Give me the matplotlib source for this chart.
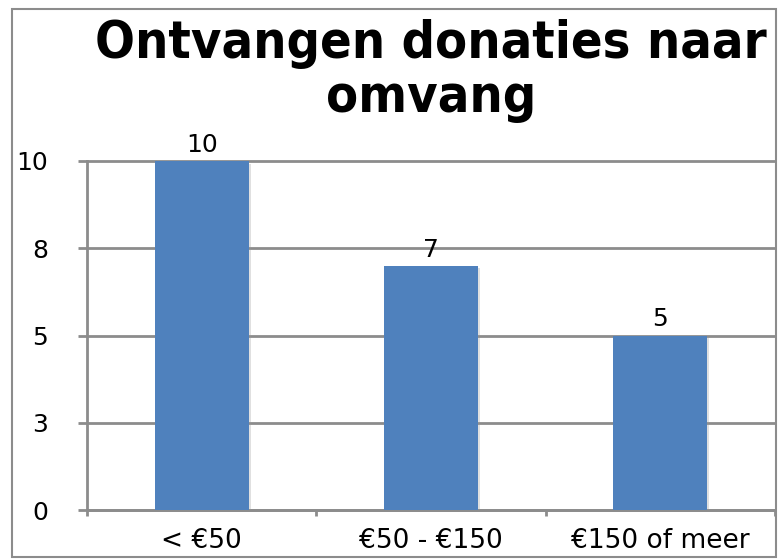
import matplotlib.pyplot as plt
import matplotlib.patheffects as pe
from matplotlib.patches import Rectangle

categories = ['< €50', '€50 - €150', '€150 of meer']
values = [10, 7, 5]
ytick_values = [0, 2.5, 5, 7.5, 10]
ytick_labels = ['0', '3', '5', '8', '10']

bar_color = '#4f81bd'
grid_color = '#8c8c8c'

fig = plt.figure(figsize=(7.8, 5.59), dpi=100)
ax = fig.add_axes([87/780, 49/559, 688/780, 349/559])

# outer chart frame
fig.patches.append(Rectangle((12/780, 2/559), 764/780, 548/559, transform=fig.transFigure,
                             fill=False, edgecolor='#8c8c8c', linewidth=1.5))

x = range(len(categories))
bars = ax.bar(x, values, width=0.41, color=bar_color, zorder=3,
              path_effects=[pe.SimplePatchShadow(offset=(1.5, -2), shadow_rgbFace='#999999', alpha=0.3),
                            pe.Normal()])

for i, v in enumerate(values):
    ax.text(i, v + 0.12, str(v), ha='center', va='bottom', fontsize=18, color='black')

ax.set_xlim(-0.5, len(categories) - 0.5)
ax.set_ylim(0, 10)
ax.set_yticks(ytick_values)
ax.set_yticklabels(ytick_labels)
ax.set_xticks([i - 0.5 for i in range(len(categories) + 1)], minor=False)
ax.set_xticklabels([])
ax.set_xticks(list(x), minor=True)
ax.set_xticklabels(categories, minor=True)

ax.tick_params(axis='y', length=6.5, width=2, color=grid_color, labelsize=18, pad=21.5)
ax.tick_params(axis='x', which='major', length=4, width=2, color=grid_color, direction='out')
ax.tick_params(axis='x', which='minor', length=0, labelsize=19, pad=13)

ax.grid(axis='y', color=grid_color, linewidth=2, zorder=0)
for gl in ax.get_ygridlines():
    gl.set_clip_on(False)
for s in ['top', 'right']:
    ax.spines[s].set_visible(False)
ax.spines['left'].set_color(grid_color)
ax.spines['left'].set_linewidth(2)
ax.spines['bottom'].set_color(grid_color)
ax.spines['bottom'].set_linewidth(2)

fig.text(431/780, 1 - 71/559, 'Ontvangen donaties naar\nomvang', ha='center', va='center',
         fontsize=37.5, fontweight='bold', fontstretch='condensed', linespacing=1.08)

fig.savefig('out.png', dpi=100)
